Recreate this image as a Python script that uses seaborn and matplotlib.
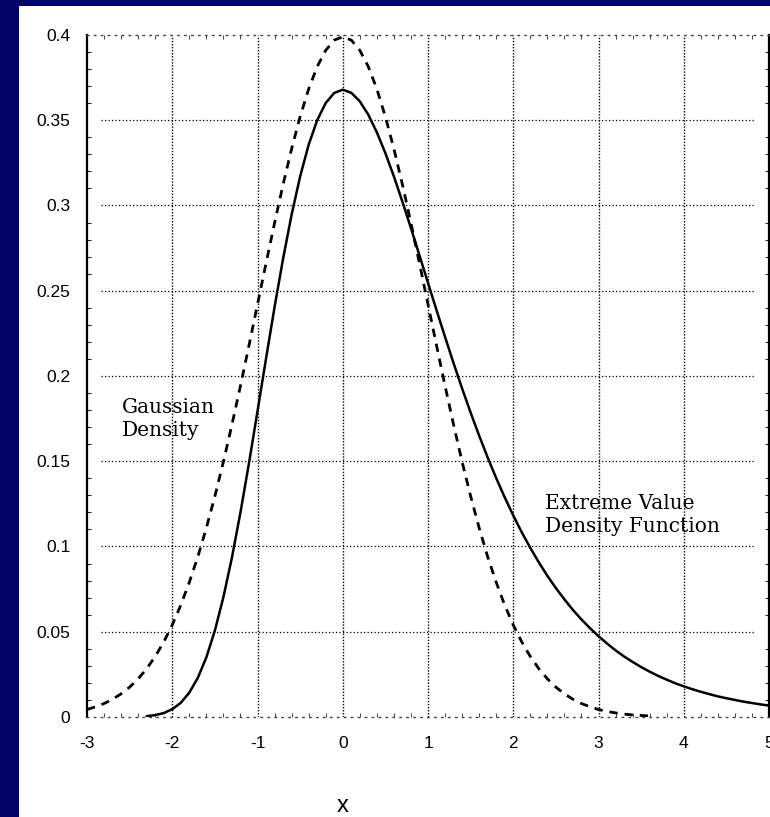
"""
Gaussian density vs extreme value density, redrawn from a scanned figure.
"""

import matplotlib
matplotlib.use("Agg")

import matplotlib.pyplot as plt
import matplotlib.patches as mpatches
import pandas as pd
import seaborn as sns


# ==========================================================
# Data
# ==========================================================

gauss_x = [
    -3.0, -2.9, -2.8, -2.7, -2.6, -2.5, -2.4, -2.3, -2.2, -2.1,
    -2.0, -1.9, -1.8, -1.7, -1.6, -1.5, -1.4, -1.3, -1.2, -1.1,
    -1.0, -0.9, -0.8, -0.7, -0.6, -0.5, -0.4, -0.3, -0.2, -0.1,
    0.0, 0.1, 0.2, 0.3, 0.4, 0.5, 0.6, 0.7, 0.8, 0.9,
    1.0, 1.1, 1.2, 1.3, 1.4, 1.5, 1.6, 1.7, 1.8, 1.9,
    2.0, 2.1, 2.2, 2.3, 2.4, 2.5, 2.6, 2.7, 2.8, 2.9,
    3.0, 3.1, 3.2, 3.3, 3.4, 3.5, 3.6,
]
gauss_y = [
    0.0044, 0.0060, 0.0079, 0.0104, 0.0136, 0.0175, 0.0224, 0.0283, 0.0355, 0.0440,
    0.0540, 0.0656, 0.0790, 0.0940, 0.1109, 0.1295, 0.1497, 0.1714, 0.1942, 0.2179,
    0.2420, 0.2661, 0.2897, 0.3123, 0.3332, 0.3521, 0.3683, 0.3814, 0.3910, 0.3970,
    0.3989, 0.3970, 0.3910, 0.3814, 0.3683, 0.3521, 0.3332, 0.3123, 0.2897, 0.2661,
    0.2420, 0.2179, 0.1942, 0.1714, 0.1497, 0.1295, 0.1109, 0.0940, 0.0790, 0.0656,
    0.0540, 0.0440, 0.0355, 0.0283, 0.0224, 0.0175, 0.0136, 0.0104, 0.0079, 0.0060,
    0.0044, 0.0033, 0.0024, 0.0017, 0.0012, 0.0009, 0.0006,
]

ev_x = [
    -2.3, -2.2, -2.1, -2.0, -1.9, -1.8, -1.7, -1.6, -1.5, -1.4,
    -1.3, -1.2, -1.1, -1.0, -0.9, -0.8, -0.7, -0.6, -0.5, -0.4,
    -0.3, -0.2, -0.1, 0.0, 0.1, 0.2, 0.3, 0.4, 0.5, 0.6,
    0.7, 0.8, 0.9, 1.0, 1.1, 1.2, 1.3, 1.4, 1.5, 1.6,
    1.7, 1.8, 1.9, 2.0, 2.1, 2.2, 2.3, 2.4, 2.5, 2.6,
    2.7, 2.8, 2.9, 3.0, 3.1, 3.2, 3.3, 3.4, 3.5, 3.6,
    3.7, 3.8, 3.9, 4.0, 4.1, 4.2, 4.3, 4.4, 4.5, 4.6,
    4.7, 4.8, 4.9, 5.0,
]
ev_y = [
    0.0005, 0.0011, 0.0023, 0.0046, 0.0083, 0.0143, 0.0230, 0.0350, 0.0507, 0.0703,
    0.0935, 0.1200, 0.1489, 0.1794, 0.2102, 0.2404, 0.2688, 0.2946, 0.3170, 0.3356,
    0.3500, 0.3601, 0.3660, 0.3679, 0.3661, 0.3611, 0.3532, 0.3429, 0.3307, 0.3170,
    0.3022, 0.2867, 0.2707, 0.2546, 0.2386, 0.2229, 0.2075, 0.1927, 0.1785, 0.1650,
    0.1522, 0.1401, 0.1288, 0.1182, 0.1083, 0.0992, 0.0907, 0.0828, 0.0756, 0.0690,
    0.0628, 0.0572, 0.0521, 0.0474, 0.0431, 0.0391, 0.0355, 0.0323, 0.0293, 0.0266,
    0.0241, 0.0219, 0.0198, 0.0180, 0.0163, 0.0148, 0.0134, 0.0121, 0.0110, 0.0100,
    0.0090, 0.0082, 0.0074, 0.0067,
]

x_ticks = [-3, -2, -1, 0, 1, 2, 3, 4, 5]
x_tick_labels = ["-3", "-2", "-1", "0", "1", "2", "3", "4", "5"]
y_ticks = [0, 0.05, 0.1, 0.15, 0.2, 0.25, 0.3, 0.35, 0.4]
y_tick_labels = ["0", "0.05", "0.1", "0.15", "0.2", "0.25", "0.3", "0.35", "0.4"]

gauss_label = "Gaussian\nDensity"
ev_label = "Extreme Value\nDensity Function"
x_label = "x"


# ==========================================================
# Plot
# ==========================================================

sns.set_style("white")
plt.rcParams["font.family"] = ["Liberation Sans", "DejaVu Sans"]

fig = plt.figure(figsize=(7.7, 8.17), dpi=100, facecolor="#000066")

# white page on top of the navy slide background
fig.patches.append(
    mpatches.Rectangle(
        (19 / 770, 0), 1 - 19 / 770, 1 - 6 / 817,
        transform=fig.transFigure, facecolor="white",
        edgecolor="none", zorder=-10,
    )
)

ax = fig.add_axes([0.113, 0.1224, 0.8857, 0.8348])
ax.set_zorder(5)
ax.set_facecolor("none")

gauss_df = pd.DataFrame({"x": gauss_x, "y": gauss_y})
ev_df = pd.DataFrame({"x": ev_x, "y": ev_y})

sns.lineplot(
    data=gauss_df, x="x", y="y", ax=ax, color="black",
    linewidth=2.0, linestyle=(0, (3, 2.5)), zorder=3,
)
sns.lineplot(
    data=ev_df, x="x", y="y", ax=ax, color="black",
    linewidth=1.8, zorder=3,
)

ax.set_xlim(-3, 5)
ax.set_ylim(0, 0.4)

# dotted grid
for xv in x_ticks[1:-1]:
    ax.axvline(xv, color="black", linewidth=1.0,
               linestyle=(0, (1, 1.2)), zorder=1)
for yv in y_ticks[1:-1]:
    ax.axhline(yv, xmin=0.02, xmax=0.98, color="black", linewidth=0.9,
               linestyle=(0, (1, 1.8)), zorder=1)

# spines: solid left/right, dotted top/bottom
for side in ["left", "right"]:
    ax.spines[side].set_linewidth(1.6)
    ax.spines[side].set_color("black")
for side in ["top", "bottom"]:
    ax.spines[side].set_linewidth(1.0)
    ax.spines[side].set_linestyle((0, (1, 4)))
    ax.spines[side].set_color("#444444")

ax.set_xticks(x_ticks)
ax.set_xticklabels(x_tick_labels)
ax.set_yticks(y_ticks)
ax.set_yticklabels(y_tick_labels)

ax.set_xticks([v / 5 for v in range(-15, 26)], minor=True)
ax.set_yticks([v / 100 for v in range(0, 41)], minor=True)

ax.tick_params(axis="both", which="major", length=0, labelsize=12.5,
               colors="black")
ax.tick_params(axis="x", which="major", pad=14)
ax.tick_params(axis="y", which="major", pad=12)
ax.tick_params(axis="y", which="minor", direction="in", length=3,
               width=0.8, left=True, right=True)
ax.tick_params(axis="x", which="minor", direction="in", length=3,
               width=0.6, bottom=True, top=True)

ax.set_xlabel(x_label, fontsize=17, color="black")
ax.xaxis.set_label_coords(0.375, -0.115)
ax.set_ylabel("")

ax.text(-2.59, 0.1747, gauss_label, family="DejaVu Serif", fontsize=14.5,
        color="black", ha="left", va="center", linespacing=1.3, zorder=4)
ax.text(2.37, 0.1185, ev_label, family="DejaVu Serif", fontsize=14.5,
        color="black", ha="left", va="center", linespacing=1.3, zorder=4)

fig.savefig("out.png", dpi=100, facecolor=fig.get_facecolor())
plt.close(fig)
